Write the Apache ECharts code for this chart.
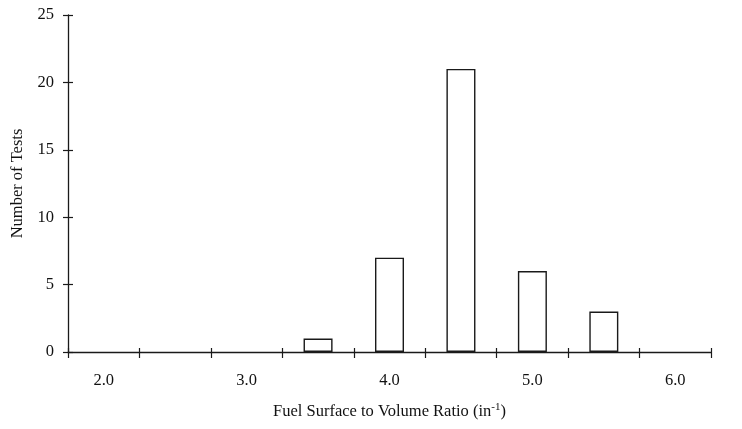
<!DOCTYPE html>
<html>
<head>
<meta charset="utf-8">
<script src="https://cdn.jsdelivr.net/npm/echarts@6/dist/echarts.min.js"></script>
<style>html,body{margin:0;padding:0;background:#fff}#c{width:742px;height:429px}</style>
</head>
<body>
<div id="c"></div>
<script>
var categories = ['2.0','2.5','3.0','3.5','4.0','4.5','5.0','5.5','6.0'];
var counts = [0, 0, 0, 1, 7, 21, 6, 3, 0];
var yTicks = [0, 5, 10, 15, 20, 25];

var chart = echarts.init(document.getElementById('c'), null, {renderer: 'canvas'});
var font = 'Liberation Serif';
var ink = '#1a1a1a';
var fs = 16.5;
chart.setOption({
  animation: false,
  backgroundColor: '#fff',
  grid: {left: 68, right: 31, top: 15, bottom: 77},
  xAxis: [{
    type: 'category',
    data: categories,
    position: 'bottom',
    boundaryGap: true,
    axisLine: {lineStyle: {color: ink, width: 1.3}},
    axisTick: {show: true, interval: 0, length: 6, lineStyle: {color: ink, width: 1.2}},
    axisLabel: {interval: 1, margin: 20, fontFamily: font, fontSize: fs, color: '#111'},
    name: 'Fuel Surface to Volume Ratio (in{sup|-1})',
    nameLocation: 'middle',
    nameGap: 50,
    nameTextStyle: {fontFamily: font, fontSize: fs, color: '#111',
      rich: {sup: {fontFamily: font, fontSize: 11, verticalAlign: 'top', padding: [0,0,8,0], color: '#111'}}}
  }, {
    type: 'category',
    data: categories,
    position: 'bottom',
    boundaryGap: true,
    axisLine: {show: false},
    axisTick: {show: true, inside: true, interval: 0, length: 4, lineStyle: {color: ink, width: 1.2}},
    axisLabel: {show: false}
  }],
  yAxis: [{
    type: 'value',
    min: 0, max: 25, interval: 5,
    position: 'left',
    axisLine: {show: true, lineStyle: {color: ink, width: 1.3}},
    axisTick: {show: true, length: 5, lineStyle: {color: ink, width: 1.2}},
    axisLabel: {margin: 14, fontFamily: font, fontSize: fs, color: '#111',
      formatter: function (v) { return yTicks.indexOf(v) >= 0 ? String(v) : ''; }},
    splitLine: {show: false},
    name: 'Number of Tests',
    nameLocation: 'middle',
    nameGap: 42,
    nameTextStyle: {fontFamily: font, fontSize: fs, color: '#111'}
  }, {
    type: 'value',
    min: 0, max: 25, interval: 5,
    position: 'left',
    axisLine: {show: false},
    axisTick: {show: true, inside: true, length: 5, lineStyle: {color: ink, width: 1.2}},
    axisLabel: {show: false},
    splitLine: {show: false}
  }],
  series: [{
    type: 'bar',
    data: counts.map(function (v) { return v > 0 ? v : '-'; }),
    barWidth: 29,
    itemStyle: {color: '#fff', borderColor: ink, borderWidth: 1.4}
  }]
});
</script>
</body>
</html>
